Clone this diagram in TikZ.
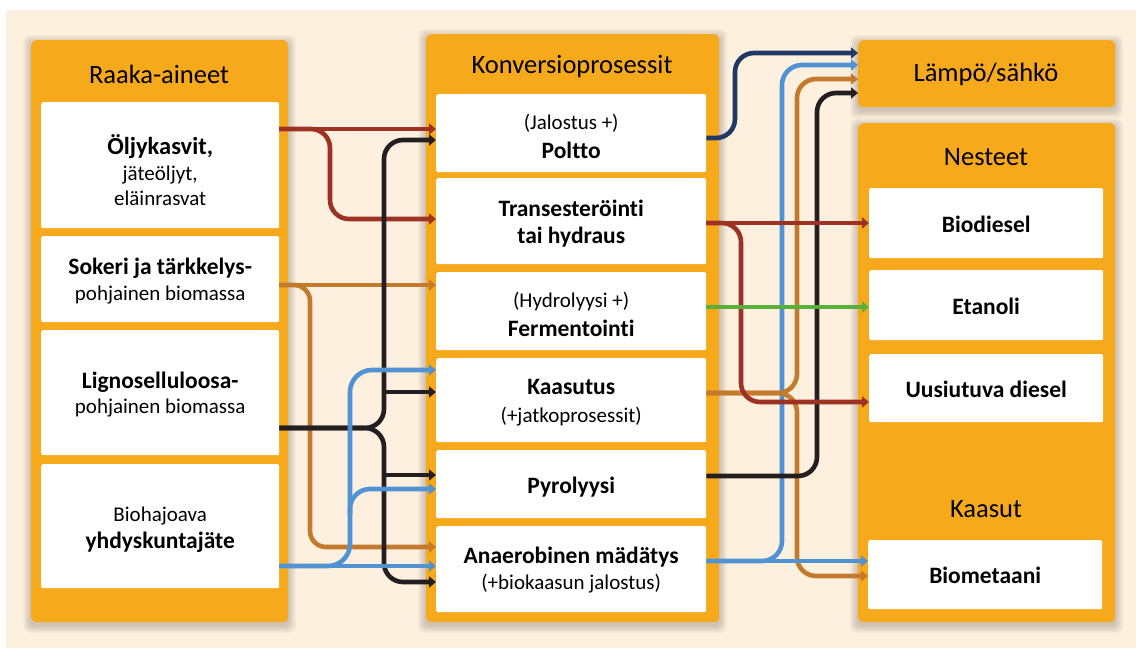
\documentclass[tikz,border=0pt]{standalone}
\usepackage{fontspec}
\setmainfont{Carlito}[Ligatures={NoCommon}]
\usetikzlibrary{arrows.meta}
\definecolor{bgcream}{RGB}{253,240,222}
\definecolor{panelor}{RGB}{247,169,28}
\definecolor{cred}{RGB}{158,50,34}
\definecolor{cblack}{RGB}{35,31,32}
\definecolor{cbrown}{RGB}{196,122,44}
\definecolor{cblue}{RGB}{80,146,210}
\definecolor{cnavy}{RGB}{31,56,100}
\definecolor{cgreen}{RGB}{90,175,60}
\newcommand\softshadow[4]{\foreach \i in {1,...,8}{\fill[black,opacity=0.025,rounded corners=6pt] (#1-\i,#2-\i+3) rectangle (#3+\i,#4+\i+3);}}
\newcommand\rg{\fontsize{21}{26}\selectfont}
\newcommand\bd{\fontsize{23.5}{28}\selectfont\bfseries}
\begin{document}
\begin{tikzpicture}[x=1pt,y=-1pt,
  panel/.style={fill=panelor, rounded corners=5pt, inner sep=0pt, anchor=north west},
  wbox/.style={fill=white, rounded corners=2pt, inner sep=0pt, anchor=north west},
  txt/.style={inner sep=0pt, align=center, font=\rg},
  ttl/.style={font=\fontsize{26.5}{30}\selectfont, inner sep=0pt},
  flow/.style={line width=4.6pt, rounded corners=19pt, -{Triangle[length=7pt,width=11pt]}}]
\useasboundingbox (0,0) rectangle (1136,648);
\fill[white] (0,0) rectangle (1136,648);
\fill[bgcream] (6,10) rectangle (1136,648);
% shadows
\softshadow{31}{40}{288}{622}
\softshadow{426}{34}{719}{622}
\softshadow{858}{40}{1115}{107}
\softshadow{858}{123}{1115}{622}
% panels
\node[panel, minimum width=257pt, minimum height=582pt] (rawp) at (31,40) {};
\node[panel, minimum width=293pt, minimum height=588pt] (convp) at (426,34) {};
\node[panel, minimum width=257pt, minimum height=67pt] (laempo) at (858,40) {};
\node[panel, minimum width=257pt, minimum height=499pt] (liqp) at (858,123) {};
% titles
\node[ttl] (t1) at (159,74) {Raaka-aineet};
\node[ttl] (t2) at (572,67) {Konversioprosessit};
\node[ttl] (t3) at (986,74) {Lämpö/sähkö};
\node[ttl] (t4) at (986,157) {Nesteet};
\node[ttl] (t5) at (986,509) {Kaasut};
% left boxes
\node[wbox, minimum width=238pt, minimum height=126pt] (oil) at (41,102) {};
\node[wbox, minimum width=238pt, minimum height=86pt] (sok) at (41,236) {};
\node[wbox, minimum width=238pt, minimum height=125pt] (lig) at (41,330) {};
\node[wbox, minimum width=238pt, minimum height=124pt] (bio) at (41,464) {};
\node[txt] (oilt) at ([yshift=-5pt]oil.center)
  {{\fontsize{24.5}{28}\selectfont\bfseries Öljykasvit,}\\[0pt]jäteöljyt,\\[-1pt]eläinrasvat};
\node[txt] (sokt) at ([yshift=-2pt]sok.center)
  {{\bd Sokeri ja tärkkelys-}\\[0pt]pohjainen biomassa};
\node[txt] (ligt) at ([yshift=-1.5pt]lig.center)
  {{\bd Lignoselluloosa-}\\[-1pt]pohjainen biomassa};
\node[txt] (biot) at ([yshift=-3pt]bio.center)
  {Biohajoava\\[1pt]{\bd yhdyskuntajäte}};
% middle boxes
\node[wbox, minimum width=270pt, minimum height=78pt] (poltto) at (436,94) {};
\node[wbox, minimum width=270pt, minimum height=86pt] (trans) at (436,178) {};
\node[wbox, minimum width=270pt, minimum height=78pt] (hydro) at (436,272) {};
\node[wbox, minimum width=270pt, minimum height=84pt] (kaas) at (436,358) {};
\node[wbox, minimum width=270pt, minimum height=68pt] (pyro) at (436,450) {};
\node[wbox, minimum width=270pt, minimum height=86pt] (anaer) at (436,526) {};
\node[txt] (polttot) at ([yshift=-3.5pt]poltto.center) {(Jalostus +)\\[3pt]{\bd Poltto}};
\node[txt] (transt) at ([yshift=-2.5pt]trans.center) {{\bd Transesteröinti}\\[1pt]{\bd tai hydraus}};
\node[txt] (hydrot) at ([yshift=-3pt]hydro.center) {(Hydrolyysi +)\\[3pt]{\bd Fermentointi}};
\node[txt] (kaast) at ([yshift=-2.5pt]kaas.center) {{\bd Kaasutus}\\[2pt](+jatkoprosessit)};
\node[txt] (pyrot) at ([yshift=-2.5pt]pyro.center) {{\bd Pyrolyysi}};
\node[txt] (anaert) at ([yshift=-1pt]anaer.center) {{\bd Anaerobinen mädätys}\\[0pt](+biokaasun jalostus)};
% right boxes
\node[wbox, minimum width=234pt, minimum height=70pt] (bdiesel) at (869,188) {};
\node[wbox, minimum width=234pt, minimum height=70pt] (etanoli) at (869,270) {};
\node[wbox, minimum width=234pt, minimum height=68pt] (udiesel) at (869,354) {};
\node[wbox, minimum width=234pt, minimum height=69pt] (biomet) at (868,540) {};
\node[txt] (bdieselt) at ([yshift=-1pt]bdiesel.center) {{\bd Biodiesel}};
\node[txt] (etanolit) at ([yshift=-1pt]etanoli.center) {{\bd Etanoli}};
\node[txt] (udieselt) at ([yshift=-1pt]udiesel.center) {{\bd Uusiutuva diesel}};
\node[txt] (biomett) at ([yshift=-1pt]biomet.center) {{\bd Biometaani}};
% ---------- left flows ----------
\draw[flow, cred] (oil.east |- 0,129) -- (poltto.west |- 0,129);
\draw[flow, cred] (oil.east |- 0,129) -- (330,129) -- (330,219) -- (trans.west |- 0,219);
\draw[flow, cbrown, rounded corners=16pt] (sok.east |- 0,285) -- (hydro.west |- 0,285);
\draw[flow, cbrown, rounded corners=16pt] (sok.east |- 0,285) -- (310,285) -- (310,547) -- (anaer.west |- 0,547);
\draw[flow, cblack] (lig.east |- 0,428) -- (384,428) -- (384,140) -- (poltto.west |- 0,140);
\draw[flow, cblack] (lig.east |- 0,428) -- (384,428) -- (384,582) -- (anaer.west |- 0,582);
\draw[flow, cblack] (384,392) -- (kaas.west |- 0,392);
\draw[flow, cblack] (384,475) -- (pyro.west |- 0,475);
\draw[flow, cblue] (bio.east |- 0,566) -- (anaer.west |- 0,566);
\draw[flow, cblue, rounded corners=22pt] (bio.east |- 0,566) -- (350,566) -- (350,370) -- (kaas.west |- 0,370);
\draw[flow, cblue, rounded corners=20pt] (350,515) -- (350,489) -- (pyro.west |- 0,489);
% ---------- right flows ----------
\draw[flow, cnavy] (poltto.east |- 0,138) -- (735,138) -- (735,53) -- (laempo.west |- 0,53);
\draw[flow, cblue, rounded corners=20pt] (anaer.east |- 0,561) -- (782,561) -- (782,65) -- (laempo.west |- 0,65);
\draw[flow, cbrown] (kaas.east |- 0,393) -- (797,393) -- (797,79) -- (laempo.west |- 0,79);
\draw[flow, cbrown] (kaas.east |- 0,393) -- (797,393) -- (797,576) -- (biomet.west |- 0,576);
\draw[flow, cblack] (pyro.east |- 0,476) -- (817,476) -- (817,93) -- (laempo.west |- 0,93);
\draw[flow, cred] (trans.east |- 0,223) -- (bdiesel.west |- 0,223);
\draw[flow, cred] (trans.east |- 0,223) -- (741,223) -- (741,402) -- (udiesel.west |- 0,402);
\draw[flow, cgreen] (hydro.east |- 0,307) -- (etanoli.west |- 0,307);
\draw[flow, cblue] (anaer.east |- 0,561) -- (biomet.west |- 0,561);
\end{tikzpicture}
\end{document}
